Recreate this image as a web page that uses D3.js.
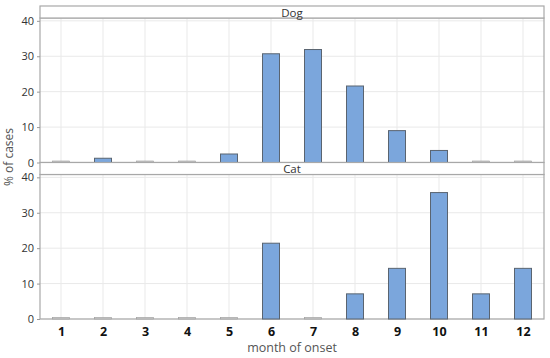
<!DOCTYPE html>
<html>
<head>
<meta charset="utf-8">
<script src="https://cdn.jsdelivr.net/npm/d3@7"></script>
<style>
  body { margin: 0; background: #fff; }
  svg { display: block; font-family: "Open Sans", sans-serif; }
</style>
</head>
<body>
<svg id="chart" width="550" height="358"></svg>
<script>
// data
var months = ["1", "2", "3", "4", "5", "6", "7", "8", "9", "10", "11", "12"]
var dogPct = [0, 1.2, 0, 0, 2.4, 30.7, 31.9, 21.6, 9.0, 3.4, 0, 0]
var catPct = [0, 0, 0, 0, 0, 21.4, 0, 7.1, 14.3, 35.7, 7.1, 14.3]
var yTicks = [0, 10, 20, 30, 40]
var panels = [
  {name: "Dog", values: dogPct},
  {name: "Cat", values: catPct}
]

var dims = {
  width: 550,
  height: 358,
  left: 40,
  right: 544,
  top: 6,
  strip: 12,
  panelH: 144.5
}

var svg = d3.select("#chart")

var xScale = d3.scalePoint()
  .domain(months)
  .range([dims.left, dims.right])
  .padding(0.5)

var barW = 17

panels.forEach(function(p, i) {
  var stripTop = dims.top + i * (dims.strip + dims.panelH)
  var pTop = stripTop + dims.strip
  var pBottom = pTop + dims.panelH

  var yScale = d3.scaleLinear()
    .domain([0, 40.8])
    .range([pBottom, pTop])

  var g = svg.append("g")

  // grid
  g.selectAll(".vgrid")
    .data(months)
    .enter().append("line")
      .attr("x1", d => xScale(d)).attr("x2", d => xScale(d))
      .attr("y1", pTop).attr("y2", pBottom)
      .attr("stroke", "#e9e9e9").attr("stroke-width", 1)

  g.selectAll(".hgrid")
    .data(yTicks)
    .enter().append("line")
      .attr("x1", dims.left).attr("x2", dims.right)
      .attr("y1", d => yScale(d)).attr("y2", d => yScale(d))
      .attr("stroke", "#e9e9e9").attr("stroke-width", 1)

  // panel frame
  g.append("rect")
    .attr("x", dims.left).attr("y", pTop)
    .attr("width", dims.right - dims.left).attr("height", dims.panelH)
    .attr("fill", "none")
    .attr("stroke", "#a8a8a8").attr("stroke-width", 1.2)

  // bars (zero months still get a flat outline like the original)
  g.selectAll(".bar")
    .data(p.values)
    .enter().append("rect")
      .attr("x", (d, j) => xScale(months[j]) - barW / 2)
      .attr("y", d => Math.min(yScale(d), yScale(0) - 1.5))
      .attr("width", barW)
      .attr("height", d => Math.max(yScale(0) - yScale(d), 1.5))
      .attr("fill", d => d > 0 ? "#7ba6dc" : "#c8c8c8")
      .attr("stroke", d => d > 0 ? "#5a6470" : "#9a9a9a")
      .attr("stroke-width", d => d > 0 ? 1 : 0.6)

  // strip
  g.append("rect")
    .attr("x", dims.left).attr("y", stripTop)
    .attr("width", dims.right - dims.left).attr("height", dims.strip)
    .attr("fill", "#fff")
    .attr("stroke", "#a8a8a8").attr("stroke-width", 1.2)

  g.append("text")
    .attr("x", (dims.left + dims.right) / 2)
    .attr("y", stripTop + dims.strip - 1.5)
    .attr("text-anchor", "middle")
    .attr("font-size", 11.5)
    .attr("fill", "#333")
    .text(p.name)

  // y axis
  var yAxis = g.append("g")
    .attr("transform", `translate(${dims.left},0)`)
    .call(d3.axisLeft(yScale).tickValues(yTicks).tickSize(3).tickPadding(3))
  yAxis.select(".domain").remove()
  yAxis.selectAll(".tick line").attr("stroke", "#999")
  yAxis.selectAll(".tick text")
    .attr("font-size", 11)
    .attr("font-family", "Open Sans, sans-serif")
    .attr("fill", "#333")

  if (i == panels.length - 1) {
    var xAxis = g.append("g")
      .attr("transform", `translate(0,${pBottom})`)
      .call(d3.axisBottom(xScale).tickSize(0).tickPadding(8))
    xAxis.select(".domain").remove()
    xAxis.selectAll(".tick text")
      .attr("font-size", 12.5)
      .attr("font-weight", "bold")
      .attr("font-family", "Open Sans, sans-serif")
      .attr("fill", "#111")
  }
})

// axis titles
svg.append("text")
  .attr("transform", "translate(13,157) rotate(-90)")
  .attr("text-anchor", "middle")
  .attr("font-size", 12)
  .attr("fill", "#555")
  .text("% of cases")

svg.append("text")
  .attr("x", (dims.left + dims.right) / 2)
  .attr("y", 352)
  .attr("text-anchor", "middle")
  .attr("font-size", 12.5)
  .attr("fill", "#555")
  .text("month of onset")
</script>
</body>
</html>
